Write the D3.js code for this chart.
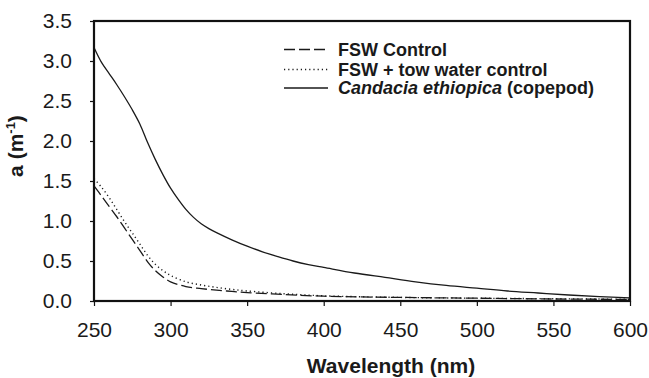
<!DOCTYPE html>
<html>
<head>
<meta charset="utf-8">
<script src="https://cdn.jsdelivr.net/npm/d3@7/dist/d3.min.js"></script>
<style>
  html, body { margin: 0; padding: 0; background: #fff; }
  svg { display: block; font-family: "Liberation Sans", Arial, sans-serif; }
</style>
</head>
<body>
<svg id="chart" width="649" height="378"></svg>
<script>
// ---- data ----
const seriesNames = ["FSW Control", "FSW + tow water control", "Candacia ethiopica"];
const wlControl = [250,255,260,265,270,275,280,285,290,295,300,310,320,330,340,350,375,400,450,500,550,600];
const aControl  = [1.44,1.31,1.18,1.05,0.91,0.77,0.63,0.49,0.38,0.30,0.24,0.18,0.155,0.135,0.12,0.105,0.08,0.06,0.045,0.035,0.025,0.02];
const wlTow = [250,255,260,265,270,275,280,285,290,295,300,310,320,330,340,350,375,400,450,500,550,600];
const aTow  = [1.53,1.42,1.29,1.14,0.99,0.85,0.71,0.57,0.46,0.38,0.32,0.24,0.20,0.17,0.145,0.125,0.09,0.065,0.045,0.035,0.028,0.022];
const wlCope = [250,255,260,265,270,275,280,285,290,295,300,305,310,315,320,325,330,340,350,360,370,380,390,400,420,440,460,480,500,520,540,560,580,600];
const aCope  = [3.17,2.98,2.84,2.70,2.55,2.39,2.21,1.98,1.77,1.58,1.41,1.27,1.145,1.045,0.965,0.905,0.855,0.765,0.685,0.615,0.555,0.50,0.455,0.42,0.35,0.295,0.24,0.195,0.16,0.125,0.10,0.075,0.055,0.04];
const xTicks = [250,300,350,400,450,500,550,600];
const yTicks = [0,0.5,1,1.5,2,2.5,3,3.5];

// ---- layout ----
const svg = d3.select("#chart");
const L = 94, R = 630, T = 21, B = 301;
const x = d3.scaleLinear().domain([250, 600]).range([L, R]);
const y = d3.scaleLinear().domain([0, 3.5]).range([B, T]);
const ink = "#1a1a1a";

const line = d3.line().x(d => x(d[0])).y(d => y(d[1])).curve(d3.curveCatmullRom.alpha(0.5));

const series = [
  { name: seriesNames[0], pts: d3.zip(wlControl, aControl), dash: "11,4", width: 1.3 },
  { name: seriesNames[1], pts: d3.zip(wlTow, aTow), dash: "1.2,3", width: 1.4 },
  { name: seriesNames[2], pts: d3.zip(wlCope, aCope), dash: null, width: 1.3 }
];

const plot = svg.append("g");
series.forEach(s => {
  plot.append("path")
    .attr("d", line(s.pts))
    .attr("fill", "none")
    .attr("stroke", ink)
    .attr("stroke-width", s.width)
    .attr("stroke-dasharray", s.dash);
});

// frame
svg.append("rect")
  .attr("x", L).attr("y", T).attr("width", R - L).attr("height", B - T)
  .attr("fill", "none").attr("stroke", "#111").attr("stroke-width", 2.2);

// axes
const xAxis = d3.axisBottom(x).tickValues(xTicks).tickSize(5).tickPadding(16).tickFormat(d3.format("d"));
const gx = svg.append("g").attr("transform", `translate(0,${B})`).call(xAxis);
gx.select(".domain").remove();
gx.selectAll("line").attr("stroke", "#111").attr("stroke-width", 1.2);
gx.selectAll("text").attr("font-size", 21).attr("fill", ink).attr("dy", "0.71em");

const yAxis = d3.axisLeft(y).tickValues(yTicks).tickSize(4).tickPadding(18).tickFormat(d3.format(".1f"));
const gy = svg.append("g").attr("transform", `translate(${L},0)`).call(yAxis);
gy.select(".domain").remove();
gy.selectAll("line").attr("stroke", "#111").attr("stroke-width", 1.2);
gy.selectAll("text").attr("font-size", 21).attr("fill", ink);

// axis titles
svg.append("text")
  .attr("x", 391).attr("y", 373)
  .attr("text-anchor", "middle")
  .attr("font-size", 21).attr("font-weight", "bold").attr("fill", ink)
  .text("Wavelength (nm)");

const yt = svg.append("text")
  .attr("transform", "translate(23,146) rotate(-90)")
  .attr("text-anchor", "middle")
  .attr("font-size", 21).attr("font-weight", "bold").attr("fill", ink);
yt.append("tspan").text("a (m");
yt.append("tspan").attr("font-size", 13).attr("dy", -8).text("-1");
yt.append("tspan").attr("dy", 8).text(")");

// legend
const legY = [49.5, 69.5, 88];
const leg = svg.append("g");
series.forEach((s, i) => {
  leg.append("line")
    .attr("x1", 284).attr("x2", 328)
    .attr("y1", legY[i]).attr("y2", legY[i])
    .attr("stroke", ink).attr("stroke-width", s.width)
    .attr("stroke-dasharray", s.dash);
  const t = leg.append("text")
    .attr("x", 338).attr("y", legY[i] + 6.3)
    .attr("font-size", 18).attr("font-weight", "bold").attr("fill", ink);
  if (i === 2) {
    t.append("tspan").attr("font-style", "italic").text(s.name);
    t.append("tspan").text(" (copepod)");
  } else {
    t.text(s.name);
  }
});
</script>
</body>
</html>
